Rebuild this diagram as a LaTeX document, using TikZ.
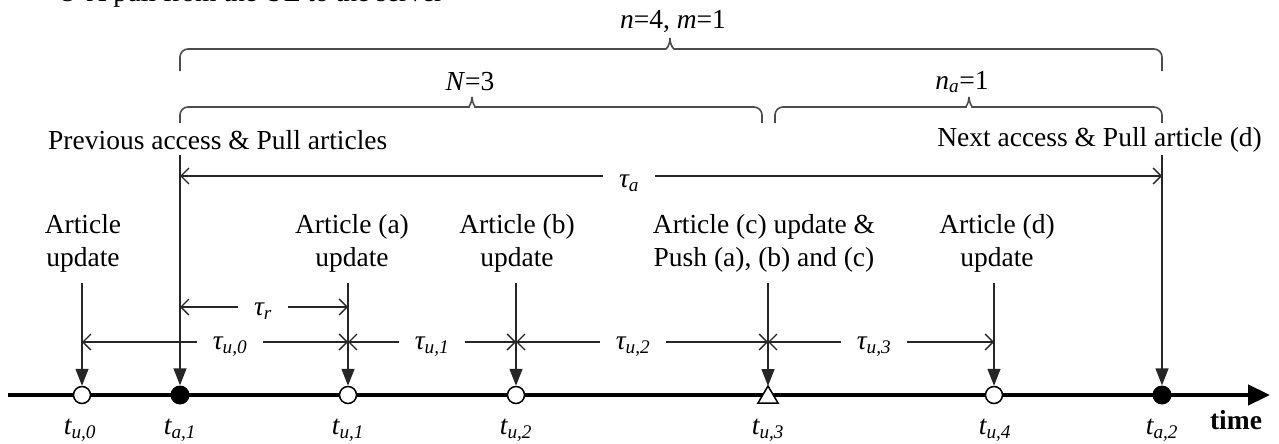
\documentclass[tikz,border=0pt]{standalone}
\usepackage{fontspec}
\setmainfont{Liberation Serif}
\newfontfamily\symfont{DejaVu Sans}
\usetikzlibrary{arrows.meta}
\tikzset{
  lbl/.style={font=\fontsize{27.5}{33}\selectfont, inner sep=0pt, align=center},
  dimlbl/.style={lbl, inner xsep=16pt, inner ysep=2pt},
  dimarrow/.style={line width=1.4pt, draw=black!85, -{Straight Barb[length=8pt,width=16pt,line width=1.4pt]}},
  vline/.style={line width=1.4pt, draw=black!85, -{Triangle[length=17pt,width=13pt]}},
  plainline/.style={line width=1.4pt, draw=black!85},
  bracestyle/.style={line width=1.6pt, draw=black!70, rounded corners=8pt},
  opencirc/.style={circle, draw=black, fill=white, line width=1.5pt, minimum size=17pt, inner sep=0pt},
  fillcirc/.style={circle, fill=black, minimum size=19pt, inner sep=0pt},
}
\begin{document}
\begin{tikzpicture}[x=1pt,y=-1pt]
\useasboundingbox (0,0) rectangle (1279,444);
\fill[white] (0,0) rectangle (1279,444);

% partially visible heading (cut off at the top)
\node[font=\fontsize{27.5}{33}\selectfont, inner sep=0pt, anchor=base west] (head) at (55,2) {{\symfont ②} A pull from the UE to the server};

% time points
\coordinate (tu0) at (82,395);
\coordinate (ta1) at (180,395);
\coordinate (tu1) at (348,395);
\coordinate (tu2) at (516,395);
\coordinate (tu3) at (768,395);
\coordinate (tu4) at (994,395);
\coordinate (ta2) at (1162,395);
\coordinate (tstart) at (8,395);
\coordinate (tend) at (1270,395);

% time axis
\draw[line width=4.5pt, -{Triangle[length=22pt,width=20pt]}] (tstart) -- (tend);

% markers
\node[opencirc] (mu0) at (tu0) {};
\node[fillcirc] (ma1) at (ta1) {};
\node[opencirc] (mu1) at (tu1) {};
\node[opencirc] (mu2) at (tu2) {};
\draw[fill=white, line width=1.5pt] (768,386) -- (778,403) -- (758,403) -- cycle;
\coordinate (mu3) at (768,386);
\node[opencirc] (mu4) at (tu4) {};
\node[fillcirc] (ma2) at (ta2) {};

% start points of vertical arrows
\coordinate (su0) at (82,283);
\coordinate (su1) at (348,283);
\coordinate (su2) at (516,283);
\coordinate (su3) at (768,283);
\coordinate (su4) at (994,283);
\coordinate (sa1) at (180,155);
\coordinate (sa2) at (1162,155);

\draw[vline] (su0) -- (mu0.north);
\draw[vline] (su1) -- (mu1.north);
\draw[vline] (su2) -- (mu2.north);
\draw[vline] (su3) -- (mu3);
\draw[vline] (su4) -- (mu4.north);
\draw[vline] (sa1) -- (ma1.north);
\draw[vline] (sa2) -- (ma2.north);

% event texts
\node[lbl] (eu0) at (83,243) {Article\\update};
\node[lbl] (eu1) at (352,243) {Article (a)\\update};
\node[lbl] (eu2) at (517,243) {Article (b)\\update};
\node[lbl] (eu3) at (764,243) {Article (c) update \&\\Push (a), (b) and (c)};
\node[lbl] (eu4) at (997,243) {Article (d)\\update};
\node[lbl, anchor=west] (prev) at (48,140) {Previous access \& Pull articles};
\node[lbl, anchor=east] (next) at (1262,140) {Next access \& Pull article (d)};

% tau_a
\node[dimlbl] (taua) at (629,183) {\textit{τ\textsubscript{a}}};
\draw[dimarrow] (taua.west |- 0,176) -- (sa1 |- 0,176);
\draw[dimarrow] (taua.east |- 0,176) -- (sa2 |- 0,176);

% tau_r
\node[dimlbl] (taur) at (263,311) {\textit{τ\textsubscript{r}}};
\draw[dimarrow] (taur.west |- 0,307) -- (sa1 |- 0,307);
\draw[dimarrow] (taur.east |- 0,307) -- (su1 |- 0,307);

% tau_u
\node[dimlbl] (tau0) at (230,347) {\textit{τ\textsubscript{u,0}}};
\node[dimlbl] (tau1) at (432,347) {\textit{τ\textsubscript{u,1}}};
\node[dimlbl] (tau2) at (633,347) {\textit{τ\textsubscript{u,2}}};
\node[dimlbl] (tau3) at (874,347) {\textit{τ\textsubscript{u,3}}};
\draw[dimarrow] (tau0.west |- 0,342) -- (su0 |- 0,342);
\draw[dimarrow] (tau0.east |- 0,342) -- (su1 |- 0,342);
\draw[dimarrow] (tau1.west |- 0,342) -- (su1 |- 0,342);
\draw[dimarrow] (tau1.east |- 0,342) -- (su2 |- 0,342);
\draw[dimarrow] (tau2.west |- 0,342) -- (su2 |- 0,342);
\draw[dimarrow] (tau2.east |- 0,342) -- (su3 |- 0,342);
\draw[dimarrow] (tau3.west |- 0,342) -- (su3 |- 0,342);
\draw[dimarrow] (tau3.east |- 0,342) -- (su4 |- 0,342);

% axis labels
\node[lbl] (lu0) at (80,430) {\textit{t\textsubscript{u,0}}};
\node[lbl] (la1) at (180,430) {\textit{t\textsubscript{a,1}}};
\node[lbl] (lu1) at (348,430) {\textit{t\textsubscript{u,1}}};
\node[lbl] (lu2) at (516,430) {\textit{t\textsubscript{u,2}}};
\node[lbl] (lu3) at (768,430) {\textit{t\textsubscript{u,3}}};
\node[lbl] (lu4) at (995,430) {\textit{t\textsubscript{u,4}}};
\node[lbl] (la2) at (1162,430) {\textit{t\textsubscript{a,2}}};
\node[lbl] (timelbl) at (1236,420) {\textbf{time}};

% braces
\draw[bracestyle] (180,71) -- (180,49) -- (658,49) .. controls (666,49) and (670,46) .. (670,38);
\draw[bracestyle] (670,38) .. controls (670,46) and (674,49) .. (682,49) -- (1162,49) -- (1162,71);
\draw[bracestyle] (180,123) -- (180,107) -- (461,107) .. controls (468,107) and (472,104) .. (472,97);
\draw[bracestyle] (472,97) .. controls (472,104) and (476,107) .. (483,107) -- (762,107) -- (762,123);
\draw[bracestyle] (775,123) -- (775,107) -- (958,107) .. controls (965,107) and (969,104) .. (969,97);
\draw[bracestyle] (969,97) .. controls (969,104) and (973,107) .. (980,107) -- (1162,107) -- (1162,123);

\node[lbl] (nm) at (673,22) {\textit{n}=4, \textit{m}=1};
\node[lbl] (bigN) at (470,82) {\textit{N}=3};
\node[lbl] (na) at (962,82) {\textit{n\textsubscript{a}}=1};
\end{tikzpicture}
\end{document}
